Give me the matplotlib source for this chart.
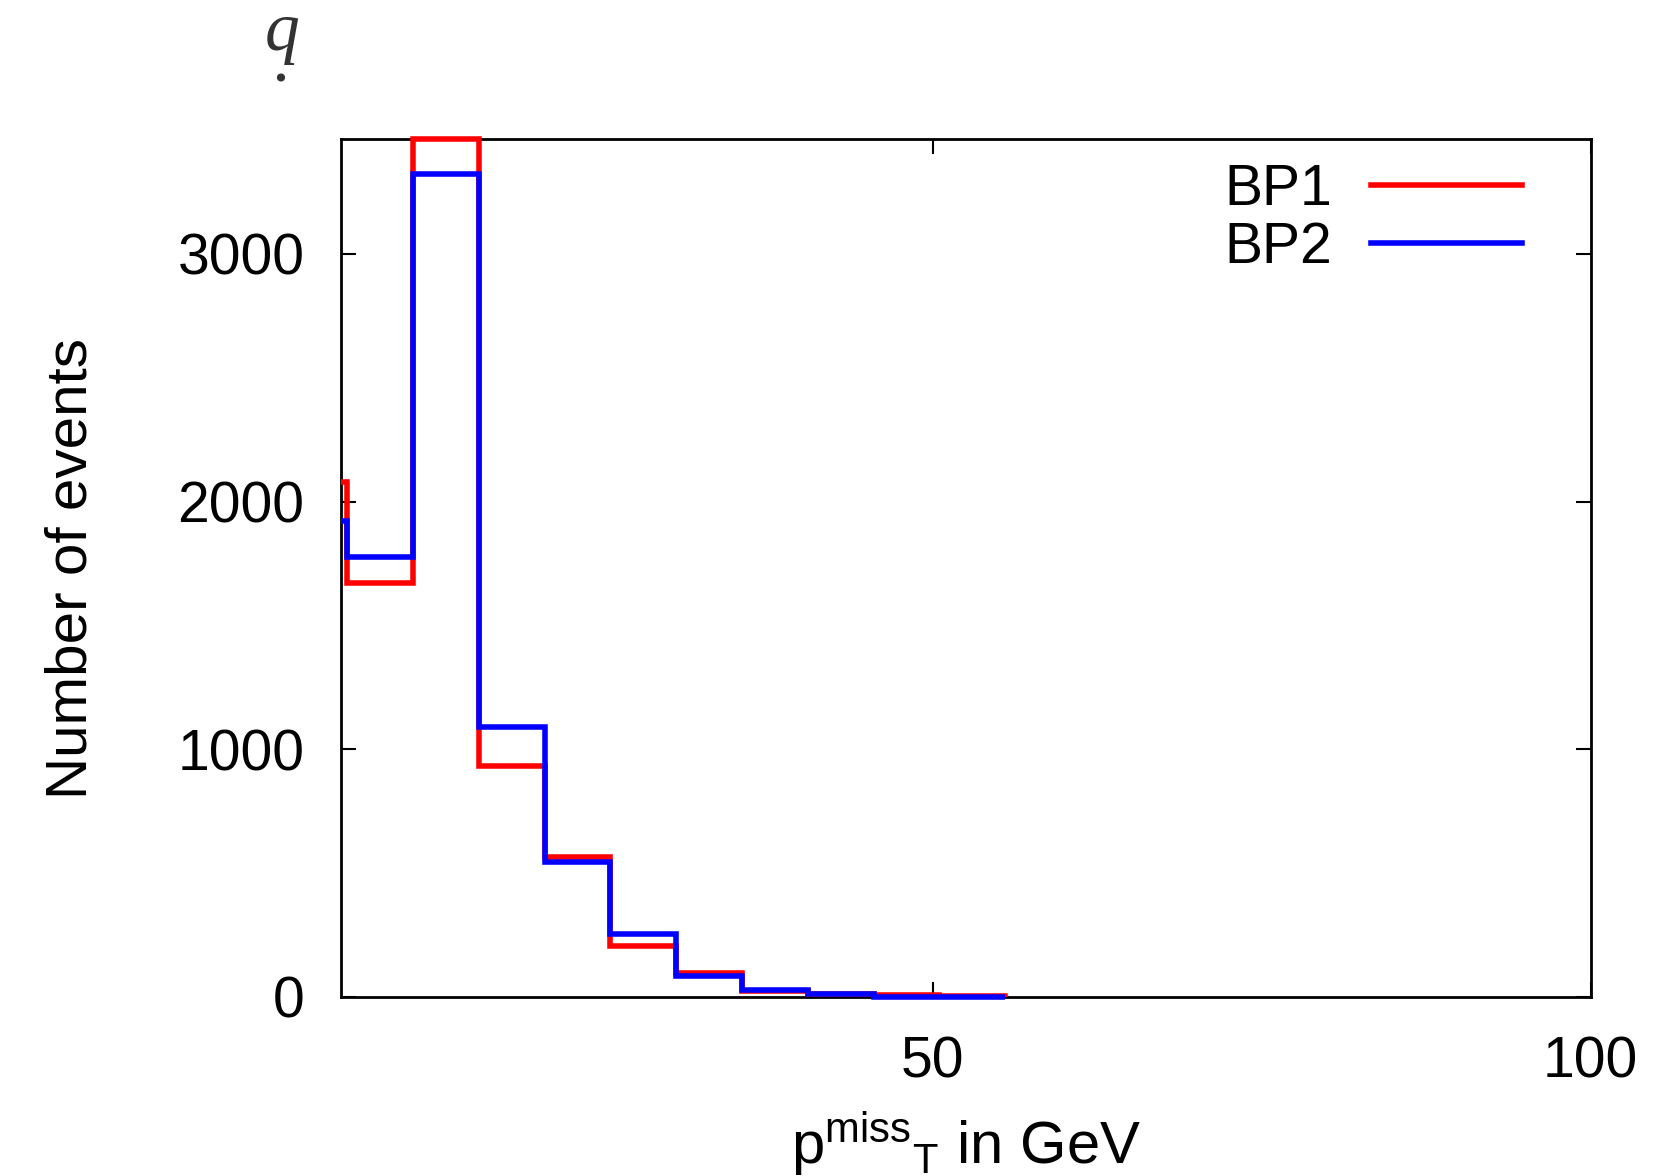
import matplotlib
matplotlib.use("Agg")
import matplotlib.pyplot as plt
from matplotlib.transforms import Bbox, TransformedBbox

plt.rcParams['font.family'] = ['Liberation Sans', 'DejaVu Sans']
plt.rcParams['mathtext.fontset'] = 'custom'
plt.rcParams['mathtext.rm'] = 'Liberation Sans'
plt.rcParams['mathtext.it'] = 'Liberation Sans'

# Histogram bin edges (GeV) and event counts
bin_edges = [0.5, 5.5, 10.5, 15.5, 20.5, 25.5, 30.5, 35.5, 40.5, 45.5, 50.5, 55.5]
bp1_counts = [2079, 1671, 3462, 934, 565, 206, 97, 25, 12, 8, 5]
bp2_counts = [1922, 1777, 3321, 1089, 543, 253, 83, 27, 12, 0, 1]
series_labels = ["BP1", "BP2"]
x_ticks = [50, 100]
y_ticks = [0, 1000, 2000, 3000]

W, H = 1665, 1176
fig = plt.figure(figsize=(W / 100, H / 100), dpi=100)
L, R, T, B = 340.7, 1590.7, 139.3, 997.0
ax = fig.add_axes([L / W, 1 - B / H, (R - L) / W, (B - T) / H])

clip = TransformedBbox(Bbox([[0, -0.02], [1, 1.02]]), ax.transAxes)
for vals, col, lab in [(bp1_counts, '#ff0000', series_labels[0]),
                       (bp2_counts, '#0000ff', series_labels[1])]:
    st = ax.stairs(vals, bin_edges, baseline=0, color=col, linewidth=4.0,
                   label=lab, zorder=3)
    st.set_clip_box(clip)

ax.set_xlim(5, 100)
ax.set_ylim(0, max(bp1_counts))
ax.set_xticks(x_ticks)
ax.set_yticks(y_ticks)
ax.tick_params(direction='in', length=11, width=1.5, top=True, right=True,
               labelsize=41, pad=26)
ax.tick_params(axis='x', pad=28)
for sp in ax.spines.values():
    sp.set_linewidth(2.0)
    sp.set_zorder(2)

ax.set_ylabel("Number of events", fontsize=42, va='center')
ax.yaxis.set_label_coords(-0.2154, 0.5)
ax.set_xlabel(r"p$^{\rm miss}$$_{\rm T}$ in GeV", fontsize=43, labelpad=14)

leg = ax.legend(loc='upper right', bbox_to_anchor=(0.9448, 0.972),
                frameon=False, markerfirst=False, fontsize=41,
                handlelength=2.65, handletextpad=0.68, labelspacing=0.06,
                borderpad=0, borderaxespad=0)

fig.text(282 / W, 1 - 49 / H, "q\n.", family='Liberation Serif',
         style='italic', fontsize=50, color='#333333', ha='center',
         va='center', linespacing=0.32, multialignment='center')

fig.savefig("out.png", dpi=100)
